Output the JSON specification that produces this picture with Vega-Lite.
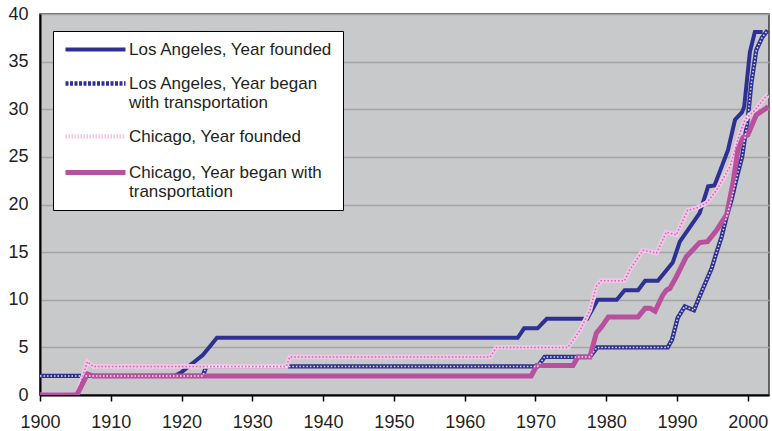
{
  "$schema": "https://vega.github.io/schema/vega-lite/v6.json",
  "width": 729,
  "height": 381,
  "autosize": "none",
  "padding": {"left": 40, "top": 14, "right": 3, "bottom": 36},
  "background": "white",
  "config": {
    "view": {"fill": "#c8c9cb", "stroke": "#3a3a3a", "strokeWidth": 1.5},
    "font": "Liberation Sans"
  },
  "data": {"values": [
    {"s": "Los Angeles, Year founded", "year": 1919, "v": 2},
    {"s": "Los Angeles, Year founded", "year": 1920, "v": 2.4},
    {"s": "Los Angeles, Year founded", "year": 1921, "v": 3},
    {"s": "Los Angeles, Year founded", "year": 1922, "v": 3.6},
    {"s": "Los Angeles, Year founded", "year": 1923, "v": 4.2},
    {"s": "Los Angeles, Year founded", "year": 1924, "v": 5.1},
    {"s": "Los Angeles, Year founded", "year": 1925, "v": 6},
    {"s": "Los Angeles, Year founded", "year": 1967.5, "v": 6},
    {"s": "Los Angeles, Year founded", "year": 1968.4, "v": 7},
    {"s": "Los Angeles, Year founded", "year": 1970.3, "v": 7},
    {"s": "Los Angeles, Year founded", "year": 1971.6, "v": 8},
    {"s": "Los Angeles, Year founded", "year": 1977.3, "v": 8},
    {"s": "Los Angeles, Year founded", "year": 1978.8, "v": 10},
    {"s": "Los Angeles, Year founded", "year": 1981.5, "v": 10},
    {"s": "Los Angeles, Year founded", "year": 1982.6, "v": 11},
    {"s": "Los Angeles, Year founded", "year": 1984.5, "v": 11},
    {"s": "Los Angeles, Year founded", "year": 1985.5, "v": 12},
    {"s": "Los Angeles, Year founded", "year": 1987.3, "v": 12},
    {"s": "Los Angeles, Year founded", "year": 1989.4, "v": 13.9},
    {"s": "Los Angeles, Year founded", "year": 1990.4, "v": 16.1},
    {"s": "Los Angeles, Year founded", "year": 1993.2, "v": 19.1},
    {"s": "Los Angeles, Year founded", "year": 1994.4, "v": 21.9},
    {"s": "Los Angeles, Year founded", "year": 1995.3, "v": 22},
    {"s": "Los Angeles, Year founded", "year": 1997.2, "v": 25.7},
    {"s": "Los Angeles, Year founded", "year": 1998.2, "v": 28.9},
    {"s": "Los Angeles, Year founded", "year": 1999.2, "v": 29.7},
    {"s": "Los Angeles, Year founded", "year": 1999.5, "v": 30.3},
    {"s": "Los Angeles, Year founded", "year": 2000.3, "v": 36},
    {"s": "Los Angeles, Year founded", "year": 2001, "v": 38.1},
    {"s": "Los Angeles, Year founded", "year": 2002.1, "v": 38.1},

    {"s": "Los Angeles, Year began with transportation", "year": 1900, "v": 2},
    {"s": "Los Angeles, Year began with transportation", "year": 1923, "v": 2},
    {"s": "Los Angeles, Year began with transportation", "year": 1923.5, "v": 3},
    {"s": "Los Angeles, Year began with transportation", "year": 1970.3, "v": 3},
    {"s": "Los Angeles, Year began with transportation", "year": 1971.3, "v": 4},
    {"s": "Los Angeles, Year began with transportation", "year": 1977.7, "v": 4},
    {"s": "Los Angeles, Year began with transportation", "year": 1978.7, "v": 5},
    {"s": "Los Angeles, Year began with transportation", "year": 1988.7, "v": 5},
    {"s": "Los Angeles, Year began with transportation", "year": 1989.3, "v": 5.8},
    {"s": "Los Angeles, Year began with transportation", "year": 1990.1, "v": 8.1},
    {"s": "Los Angeles, Year began with transportation", "year": 1991.1, "v": 9.3},
    {"s": "Los Angeles, Year began with transportation", "year": 1992.4, "v": 8.9},
    {"s": "Los Angeles, Year began with transportation", "year": 1993, "v": 10},
    {"s": "Los Angeles, Year began with transportation", "year": 1994.2, "v": 12.1},
    {"s": "Los Angeles, Year began with transportation", "year": 1994.9, "v": 13.3},
    {"s": "Los Angeles, Year began with transportation", "year": 1995.6, "v": 15},
    {"s": "Los Angeles, Year began with transportation", "year": 1996.3, "v": 16.6},
    {"s": "Los Angeles, Year began with transportation", "year": 1997, "v": 18.7},
    {"s": "Los Angeles, Year began with transportation", "year": 1997.7, "v": 20.5},
    {"s": "Los Angeles, Year began with transportation", "year": 1998.5, "v": 23},
    {"s": "Los Angeles, Year began with transportation", "year": 1999.2, "v": 25},
    {"s": "Los Angeles, Year began with transportation", "year": 2000, "v": 29},
    {"s": "Los Angeles, Year began with transportation", "year": 2000.5, "v": 32.7},
    {"s": "Los Angeles, Year began with transportation", "year": 2001.2, "v": 36.2},
    {"s": "Los Angeles, Year began with transportation", "year": 2002, "v": 37.5},
    {"s": "Los Angeles, Year began with transportation", "year": 2002.8, "v": 38.3},

    {"s": "Chicago, Year founded", "year": 1900, "v": 0},
    {"s": "Chicago, Year founded", "year": 1905.2, "v": 0},
    {"s": "Chicago, Year founded", "year": 1906.7, "v": 3.5},
    {"s": "Chicago, Year founded", "year": 1907.5, "v": 3},
    {"s": "Chicago, Year founded", "year": 1934.8, "v": 3},
    {"s": "Chicago, Year founded", "year": 1935.3, "v": 4},
    {"s": "Chicago, Year founded", "year": 1963.6, "v": 4},
    {"s": "Chicago, Year founded", "year": 1964.5, "v": 5},
    {"s": "Chicago, Year founded", "year": 1974.6, "v": 5},
    {"s": "Chicago, Year founded", "year": 1976.3, "v": 6.8},
    {"s": "Chicago, Year founded", "year": 1977.7, "v": 8.9},
    {"s": "Chicago, Year founded", "year": 1978.6, "v": 11.4},
    {"s": "Chicago, Year founded", "year": 1979.3, "v": 12},
    {"s": "Chicago, Year founded", "year": 1982.6, "v": 12},
    {"s": "Chicago, Year founded", "year": 1983.3, "v": 13.1},
    {"s": "Chicago, Year founded", "year": 1985.2, "v": 15.2},
    {"s": "Chicago, Year founded", "year": 1987.1, "v": 14.9},
    {"s": "Chicago, Year founded", "year": 1988.5, "v": 17.1},
    {"s": "Chicago, Year founded", "year": 1989.9, "v": 16.8},
    {"s": "Chicago, Year founded", "year": 1991.5, "v": 19.4},
    {"s": "Chicago, Year founded", "year": 1992.7, "v": 19.6},
    {"s": "Chicago, Year founded", "year": 1994.2, "v": 20.2},
    {"s": "Chicago, Year founded", "year": 1995.6, "v": 21.5},
    {"s": "Chicago, Year founded", "year": 1997.5, "v": 24},
    {"s": "Chicago, Year founded", "year": 1998.9, "v": 27.5},
    {"s": "Chicago, Year founded", "year": 1999.6, "v": 28.9},
    {"s": "Chicago, Year founded", "year": 2001, "v": 29.9},
    {"s": "Chicago, Year founded", "year": 2002.4, "v": 31.2},
    {"s": "Chicago, Year founded", "year": 2002.9, "v": 31.5},

    {"s": "Chicago, Year began with transportation", "year": 1900, "v": 0},
    {"s": "Chicago, Year began with transportation", "year": 1905.2, "v": 0},
    {"s": "Chicago, Year began with transportation", "year": 1906.7, "v": 2.2},
    {"s": "Chicago, Year began with transportation", "year": 1907.5, "v": 2},
    {"s": "Chicago, Year began with transportation", "year": 1969.4, "v": 2},
    {"s": "Chicago, Year began with transportation", "year": 1970.2, "v": 3.1},
    {"s": "Chicago, Year began with transportation", "year": 1975.3, "v": 3.1},
    {"s": "Chicago, Year began with transportation", "year": 1976, "v": 4},
    {"s": "Chicago, Year began with transportation", "year": 1977.7, "v": 4},
    {"s": "Chicago, Year began with transportation", "year": 1978.6, "v": 6.5},
    {"s": "Chicago, Year began with transportation", "year": 1979.5, "v": 7.3},
    {"s": "Chicago, Year began with transportation", "year": 1980.3, "v": 8.2},
    {"s": "Chicago, Year began with transportation", "year": 1984.5, "v": 8.2},
    {"s": "Chicago, Year began with transportation", "year": 1985.5, "v": 9.1},
    {"s": "Chicago, Year began with transportation", "year": 1986.2, "v": 9.1},
    {"s": "Chicago, Year began with transportation", "year": 1986.9, "v": 8.8},
    {"s": "Chicago, Year began with transportation", "year": 1988, "v": 10.5},
    {"s": "Chicago, Year began with transportation", "year": 1988.5, "v": 11},
    {"s": "Chicago, Year began with transportation", "year": 1989, "v": 11.2},
    {"s": "Chicago, Year began with transportation", "year": 1989.9, "v": 12.4},
    {"s": "Chicago, Year began with transportation", "year": 1991.3, "v": 14.5},
    {"s": "Chicago, Year began with transportation", "year": 1993.2, "v": 16},
    {"s": "Chicago, Year began with transportation", "year": 1994.3, "v": 16.1},
    {"s": "Chicago, Year began with transportation", "year": 1995.6, "v": 17.3},
    {"s": "Chicago, Year began with transportation", "year": 1997, "v": 18.9},
    {"s": "Chicago, Year began with transportation", "year": 1997.9, "v": 22.2},
    {"s": "Chicago, Year began with transportation", "year": 1998.6, "v": 25.7},
    {"s": "Chicago, Year began with transportation", "year": 1999.3, "v": 27},
    {"s": "Chicago, Year began with transportation", "year": 2000, "v": 27.3},
    {"s": "Chicago, Year began with transportation", "year": 2001.2, "v": 29.4},
    {"s": "Chicago, Year began with transportation", "year": 2002.6, "v": 30.1},
    {"s": "Chicago, Year began with transportation", "year": 2002.9, "v": 30.3}
  ]},
  "encoding": {
    "x": {
      "field": "year", "type": "quantitative",
      "scale": {"domain": [1900, 2003], "nice": false, "zero": false},
      "axis": {
        "title": null, "values": [1900, 1910, 1920, 1930, 1940, 1950, 1960, 1970, 1980, 1990, 2000],
        "format": "d", "grid": false, "domainColor": "#000000", "domainWidth": 2,
        "tickColor": "#000000", "tickSize": 6, "tickWidth": 1.5, "labelPadding": 12,
        "labelFontSize": 18, "labelColor": "#231f20", "labelFont": "Liberation Sans",
        "labelFlush": false, "labelOverlap": false
      }
    },
    "y": {
      "field": "v", "type": "quantitative",
      "scale": {"domain": [0, 40], "nice": false},
      "axis": {
        "title": null, "values": [0, 5, 10, 15, 20, 25, 30, 35, 40],
        "grid": true, "gridColor": "#a4a5a7", "gridWidth": 1.5,
        "ticks": false, "domainColor": "#000000", "domainWidth": 2,
        "labelPadding": 12, "labelFontSize": 18, "labelColor": "#231f20",
        "labelFont": "Liberation Sans", "labelFlush": false, "labelOverlap": false
      }
    }
  },
  "layer": [
    {
      "mark": {"type": "line", "clip": true},
      "encoding": {
        "color": {
          "field": "s", "type": "nominal",
          "scale": {
            "domain": ["Los Angeles, Year founded", "Los Angeles, Year began with transportation", "Chicago, Year founded", "Chicago, Year began with transportation"],
            "range": ["#2e3192", "#2e3192", "#f0c6e6", "#b8509f"]
          },
          "legend": {
            "title": null, "orient": "none", "legendX": 13, "legendY": 17,
            "fillColor": "white", "strokeColor": "#000000", "padding": 10,
            "labelFont": "Liberation Sans", "labelFontSize": 17, "labelColor": "#231f20",
            "symbolType": "M-5,0H5", "symbolSize": 144, "symbolStrokeWidth": 4,
            "symbolOffset": 24, "labelOffset": 25, "rowPadding": 16,
            "labelLimit": 400,
            "labelExpr": "datum.label == 'Los Angeles, Year began with transportation' ? ['Los Angeles, Year began', 'with transportation'] : datum.label == 'Chicago, Year began with transportation' ? ['Chicago, Year began with', 'transportation'] : datum.label",
            "encode": {
              "symbols": {"update": {
                "strokeDash": {"signal": "datum.value == 'Los Angeles, Year began with transportation' ? [3, 1.5] : datum.value == 'Chicago, Year founded' ? [1.5, 1.5] : [1, 0]"},
                "stroke": {"signal": "datum.value == 'Chicago, Year founded' ? '#dc98cf' : datum.value == 'Chicago, Year began with transportation' ? '#b8509f' : '#2e3192'"}
              }}
            }
          }
        },
        "strokeWidth": {
          "field": "s", "type": "nominal",
          "scale": {
            "domain": ["Los Angeles, Year founded", "Los Angeles, Year began with transportation", "Chicago, Year founded", "Chicago, Year began with transportation"],
            "range": [4, 5, 5.5, 4]
          },
          "legend": null
        }
      }
    },
    {
      "transform": [{"filter": "datum.s == 'Los Angeles, Year began with transportation'"}],
      "mark": {"type": "line", "clip": true, "color": "#ffffff", "strokeWidth": 1.5, "strokeDash": [1.5, 2], "opacity": 0.85}
    },
    {
      "transform": [{"filter": "datum.s == 'Chicago, Year founded'"}],
      "mark": {"type": "line", "clip": true, "color": "#c2479f", "strokeWidth": 1.5, "strokeDash": [1.5, 2], "opacity": 0.75}
    }
  ]
}
